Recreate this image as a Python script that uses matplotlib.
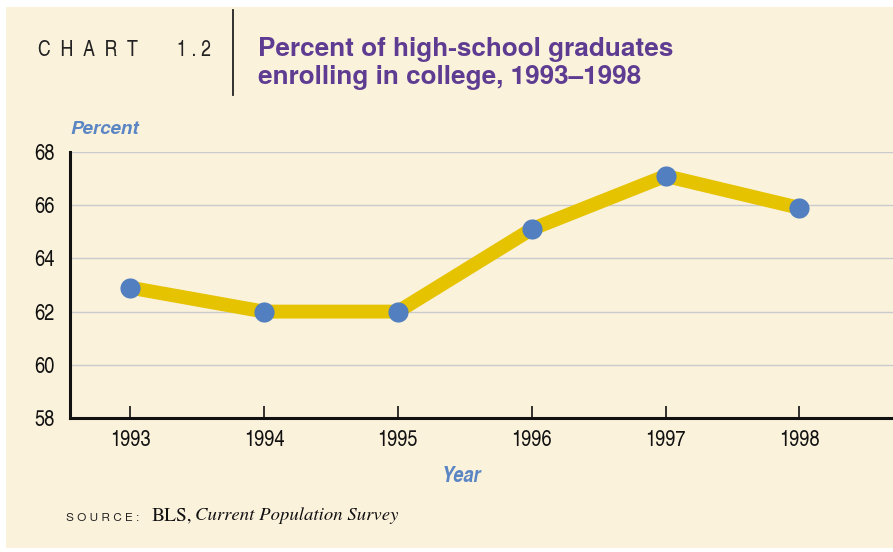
import matplotlib
matplotlib.use("Agg")
import matplotlib.pyplot as plt
from matplotlib.patches import Rectangle

years = [1993, 1994, 1995, 1996, 1997, 1998]
percent = [62.9, 62.0, 62.0, 65.1, 67.1, 65.9]
yticks = [58, 60, 62, 64, 66, 68]

cond = ['TeX Gyre Heros Cn', 'DejaVu Sans']
heros = ['TeX Gyre Heros', 'Liberation Sans', 'DejaVu Sans']
serif = ['TeX Gyre Termes', 'Liberation Serif', 'DejaVu Serif']

W, H = 893, 552
fig = plt.figure(figsize=(W/100, H/100), dpi=100)
fig.patch.set_facecolor('white')
cream = '#FBF2DC'
fig.patches.append(Rectangle((6/W, 1 - 548/H), 1 - 6/W, (548 - 7)/H,
                             transform=fig.transFigure, facecolor=cream,
                             edgecolor='none', zorder=-5))

ax = fig.add_axes([70/W, 1 - 418/H, (W - 70)/W, (418 - 152)/H])
ax.set_zorder(1)
ax.set_facecolor(cream)
ax.set_xlim(1992.55, 1998.70)
ax.set_ylim(58, 68)
ax.set_yticks(yticks)
ax.set_xticks(years)
for y in yticks[1:]:
    ax.axhline(y, color='#C9CBCF', lw=1.0, zorder=1)
ax.plot(years, percent, color='#E5C300', lw=10, solid_capstyle='butt',
        solid_joinstyle='miter', zorder=2)
ax.plot(years, percent, 'o', color='#527FBF', ms=14.5, mec='none', zorder=3)

for s in ['top', 'right']:
    ax.spines[s].set_visible(False)
for s in ['left', 'bottom']:
    ax.spines[s].set_linewidth(2.2)
    ax.spines[s].set_color('#111111')
ax.tick_params(axis='x', direction='in', length=9, width=1.2, color='#111111',
               pad=9, labelsize=16)
ax.tick_params(axis='y', length=0, pad=11, labelsize=16)
for lab in ax.get_xticklabels() + ax.get_yticklabels():
    lab.set_family(cond)
    lab.set_color('#111111')

# header
fig.text(38/W, 1 - 50/H, 'C  H  A  R  T        1 . 2', fontsize=15.5, family=cond,
         color='#222222', va='center', ha='left')
fig.add_artist(plt.Line2D([233/W, 233/W], [1 - 10/H, 1 - 95/H], color='#222222', lw=1.3))
fig.text(258/W, 1 - 49/H, 'Percent of high-school graduates', fontsize=18.8,
         fontweight='bold', color='#5E3C91', va='center', ha='left', family=heros)
fig.text(258/W, 1 - 77/H, 'enrolling in college, 1993\u20131998', fontsize=18.8,
         fontweight='bold', color='#5E3C91', va='center', ha='left', family=heros)

fig.text(70/W, 1 - 130/H, 'Percent', fontsize=13.5, fontweight='bold', style='italic',
         color='#5B86C4', va='center', ha='left', family=heros)
fig.text(461/W, 1 - 476/H, 'Year', fontsize=16, style='italic', fontweight='bold',
         color='#5B86C4', va='center', ha='center', family=cond)

fig.text(66/W, 1 - 518/H, 'S O U R C E :', fontsize=8.5, color='#222222',
         va='center', ha='left', family=heros)
fig.text(152/W, 1 - 516/H, 'BLS,', fontsize=14, color='#111111',
         va='center', ha='left', family=serif)
fig.text(195/W, 1 - 516/H, 'Current Population Survey', fontsize=13.5, style='italic',
         color='#111111', va='center', ha='left', family=serif)

fig.savefig('out.png', dpi=100, facecolor=fig.get_facecolor())
